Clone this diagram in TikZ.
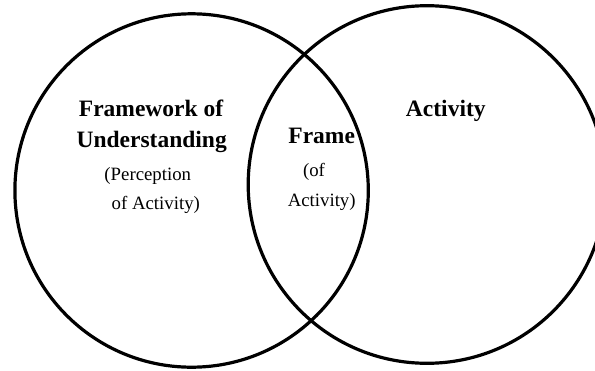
\documentclass[tikz,border=0pt]{standalone}
\usepackage{fontspec}
\setmainfont{Liberation Serif}
\begin{document}
\begin{tikzpicture}[x=1pt,y=-1pt,
  ring/.style={circle,draw=black,line width=3.2pt,inner sep=0pt},
  title/.style={anchor=base,inner sep=0pt,font=\fontsize{23.5}{28}\selectfont\bfseries},
  sub/.style={anchor=base,inner sep=0pt,font=\fontsize{18.8}{22}\selectfont}]
\clip (0,0) rectangle (595,370);
\node[ring,minimum size=353.4pt] (left) at (191.6,190.5) {};
\node[ring,minimum size=357.6pt] (right) at (427,184.5) {};
\node[title] (fw) at (151,116.5) {Framework of};
\node[title] (un) at (151.7,147.3) {Understanding};
\node[sub] (pe) at (147.8,180.7) {(Perception};
\node[sub] (oa) at (155.8,209.3) {of Activity)};
\node[title] (fr) at (321.7,143.3) {Frame};
\node[sub] (of) at (314,176.7) {(of};
\node[sub] (ac) at (321.7,206.7) {Activity)};
\node[title] (act) at (445.8,116) {Activity};
\end{tikzpicture}
\end{document}
